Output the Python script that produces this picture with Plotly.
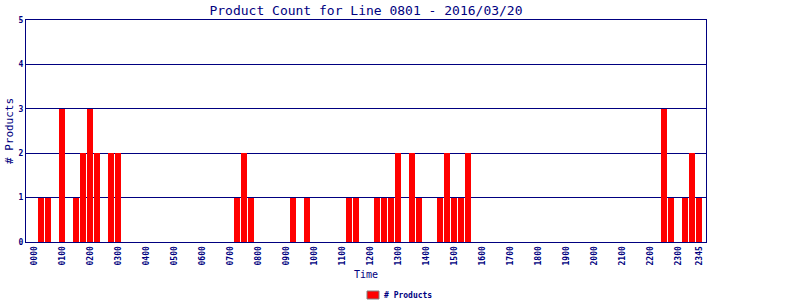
import plotly.graph_objects as go

# 15-minute slots of the day (0000 .. 2345)
times = ["%02d%02d" % (h, m) for h in range(24) for m in (0, 15, 30, 45)]

# product counts per 15-minute slot
counts = [
    0, 1, 1, 0, 3, 0, 1, 2,   # 0000-0145
    3, 2, 0, 2, 2, 0, 0, 0,   # 0200-0345
    0, 0, 0, 0, 0, 0, 0, 0,   # 0400-0545
    0, 0, 0, 0, 0, 1, 2, 1,   # 0600-0745
    0, 0, 0, 0, 0, 1, 0, 1,   # 0800-0945
    0, 0, 0, 0, 0, 1, 1, 0,   # 1000-1145
    0, 1, 1, 1, 2, 0, 2, 1,   # 1200-1345
    0, 0, 1, 2, 1, 1, 2, 0,   # 1400-1545
    0, 0, 0, 0, 0, 0, 0, 0,   # 1600-1745
    0, 0, 0, 0, 0, 0, 0, 0,   # 1800-1945
    0, 0, 0, 0, 0, 0, 0, 0,   # 2000-2145
    0, 0, 3, 1, 0, 1, 2, 1,   # 2200-2345
]

tick_idx = list(range(0, 96, 4)) + [95]
tick_labels = [times[i] for i in tick_idx]
series_name = "# Products"

NAVY = "#000080"
MONO = "DejaVu Sans Mono"
L, R, T, B = 26, 706, 20, 242
W, H = 800, 300

def px_x(p):
    return (p - L) / (R - L)

def px_y(p):
    return (B - p) / (B - T)

fig = go.Figure()
fig.add_trace(go.Bar(
    x=list(range(len(times))), y=counts,
    width=0.86, name=series_name,
    marker=dict(color="#ff0000", line=dict(width=0)),
    showlegend=False,
    customdata=times,
))

# legend drawn by hand: red box with grey outline + label
fig.add_shape(type="rect", xref="paper", yref="paper",
              x0=px_x(367), x1=px_x(379), y0=px_y(299), y1=px_y(291),
              fillcolor="#ff0000", line=dict(color="#808080", width=1))
fig.add_annotation(text=series_name, xref="paper", yref="paper",
                   x=px_x(382), y=px_y(295), xanchor="left", yanchor="middle",
                   showarrow=False,
                   font=dict(family=MONO, size=8, color=NAVY, weight="bold"))

fig.update_layout(
    width=W, height=H,
    margin=dict(l=L, r=W - R, t=T, b=H - B),
    paper_bgcolor="white", plot_bgcolor="white",
    title=dict(text="Product Count for Line 0801 - 2016/03/20",
               x=(L + R) / 2 / W, xanchor="center",
               y=1 - 10 / H, yanchor="middle",
               font=dict(family=MONO, size=13, color=NAVY)),
    bargap=0,
    showlegend=False,
    font=dict(family=MONO, color=NAVY),
)
fig.update_xaxes(
    range=[-1.14, 96], tickmode="array", tickvals=tick_idx, ticktext=tick_labels,
    tickangle=-90, tickfont=dict(family=MONO, size=8, color=NAVY, weight="bold"),
    showgrid=False, zeroline=False, automargin=False,
    showline=True, linecolor=NAVY, linewidth=1, mirror=True,
    ticks="", ticklen=0,
    title=dict(text="Time", font=dict(family=MONO, size=10, color=NAVY), standoff=6),
)
fig.update_yaxes(
    range=[0, 5], dtick=1, tick0=0,
    tickfont=dict(family=MONO, size=8, color=NAVY, weight="bold"),
    showgrid=True, gridcolor=NAVY, gridwidth=1,
    zeroline=False, automargin=False,
    showline=True, linecolor=NAVY, linewidth=1, mirror=True,
    ticks="",
    title=dict(text="# Products", font=dict(family=MONO, size=11, color=NAVY), standoff=2),
)

fig.write_html("out.html")
